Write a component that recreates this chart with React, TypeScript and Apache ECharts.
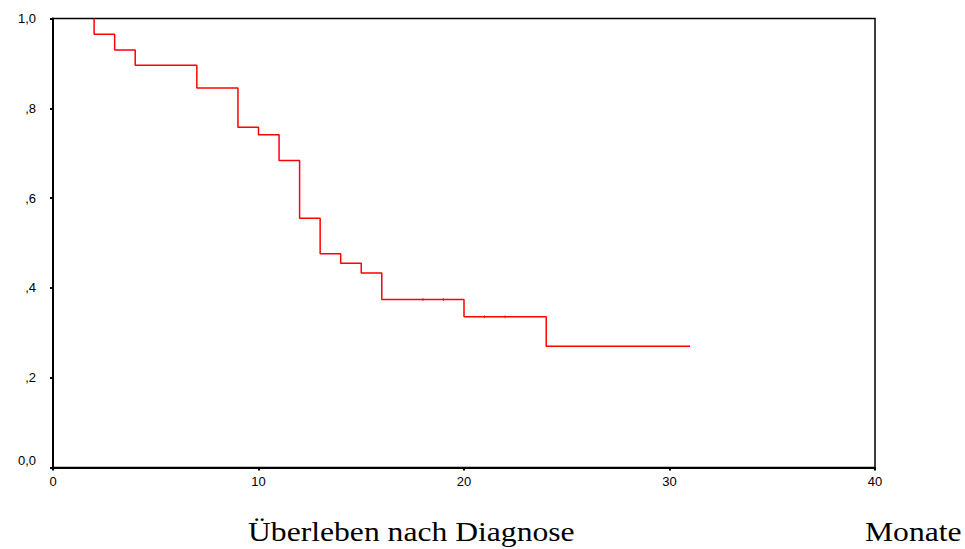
import React, { useEffect, useRef } from "react";
import * as echarts from "echarts";

// Kaplan-Meier step points (month, cumulative survival)
const months = [2, 2, 3, 4, 7, 9, 10, 11, 12, 13, 14, 15, 16, 20, 24, 31];
const survival = [1.0, 0.965, 0.93, 0.896, 0.845, 0.758, 0.741, 0.684, 0.555, 0.476, 0.455, 0.433, 0.374, 0.336, 0.27, 0.27];
// censored observations
const censorMonths = [18, 19, 21, 22];
const censorSurvival = [0.374, 0.374, 0.336, 0.336];

const xTitle = "Überleben nach Diagnose";
const unitLabel = "Monate";

export default function App() {
  const ref = useRef<HTMLDivElement>(null);
  useEffect(() => {
    if (!ref.current) return;
    const chart = echarts.init(ref.current, null, { renderer: "svg" });
    const fmtY = (v: number) => {
      if (v === 0) return "{z|0,0}";
      if (v === 1) return "1,0";
      return "," + Math.round(v * 10);
    };
    chart.setOption({
      animation: false,
      backgroundColor: "#ffffff",
      grid: {
        left: 53,
        right: 90,
        top: 18.5,
        bottom: 81.5,
        show: true,
        borderColor: "#000",
        borderWidth: 1.5,
        backgroundColor: "transparent",
      },
      xAxis: {
        type: "value",
        min: 0,
        max: 40,
        interval: 10,
        splitLine: { show: false },
        axisLine: { show: true, onZero: false, lineStyle: { color: "#000", width: 2 } },
        axisTick: { show: true, length: 3, lineStyle: { color: "#000", width: 2 } },
        axisLabel: {
          color: "#000",
          fontFamily: "Liberation Sans, Arial, sans-serif",
          fontSize: 13,
          margin: 7,
        },
      },
      yAxis: {
        type: "value",
        min: 0,
        max: 1,
        interval: 0.2,
        splitLine: { show: false },
        axisLine: { show: true, onZero: false, lineStyle: { color: "#000", width: 2 } },
        axisTick: { show: true, length: 3, lineStyle: { color: "#000", width: 2 } },
        axisLabel: {
          color: "#000",
          fontFamily: "Liberation Sans, Arial, sans-serif",
          fontSize: 13,
          margin: 17,
          formatter: fmtY,
          rich: {
            z: {
              fontFamily: "Liberation Sans, Arial, sans-serif",
              fontSize: 13,
              color: "#000",
              padding: [0, 0, 14, 0],
            },
          },
        },
      },
      series: [
        {
          type: "line",
          step: "end",
          data: months.map((m, i) => [m, survival[i]]),
          showSymbol: false,
          symbol: "none",
          lineStyle: { color: "#ff0000", width: 1.5 },
          z: 3,
        },
        {
          type: "scatter",
          data: censorMonths.map((m, i) => [m, censorSurvival[i]]),
          symbol: "rect",
          symbolSize: [1, 3],
          itemStyle: { color: "#e00000", opacity: 0.7 },
          z: 4,
        },
      ],
      graphic: [
        {
          type: "text",
          x: 248,
          y: 531.5,
          scaleX: 1.13,
          style: {
            text: xTitle,
            fontFamily: "Liberation Serif, Times New Roman, serif",
            fontSize: 28,
            fill: "#000",
            textAlign: "left",
            textVerticalAlign: "middle",
          },
        },
        {
          type: "text",
          x: 865,
          y: 531.5,
          scaleX: 1.13,
          style: {
            text: unitLabel,
            fontFamily: "Liberation Serif, Times New Roman, serif",
            fontSize: 28,
            fill: "#000",
            textAlign: "left",
            textVerticalAlign: "middle",
          },
        },
      ],
    });
    return () => chart.dispose();
  }, []);
  return <div ref={ref} style={{ width: 965, height: 549, position: "absolute", left: 0, top: 0 }} />;
}
